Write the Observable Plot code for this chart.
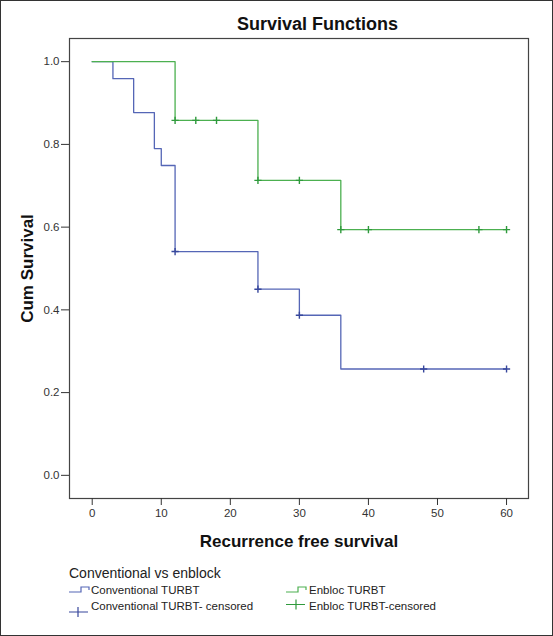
<!DOCTYPE html>
<html>
<head>
<meta charset="utf-8">
<script src="https://cdn.jsdelivr.net/npm/d3@7"></script>
<script src="https://cdn.jsdelivr.net/npm/@observablehq/plot@0.6"></script>
<style>
  html, body { margin: 0; padding: 0; background: #fff; }
  #wrap { position: relative; width: 553px; height: 636px; overflow: hidden; font-family: "Liberation Sans", Arial, sans-serif; }
  #border { position: absolute; left: 0; top: 0; width: 553px; height: 636px; box-sizing: border-box; border: 1px solid #333; pointer-events: none; }
  #chart { position: absolute; left: 0; top: 0; }
  #legend { position: absolute; left: 0; top: 560px; }
</style>
</head>
<body>
<div id="wrap">
  <div id="chart"></div>
  <div id="legend"></div>
  <div id="border"></div>
</div>
<script>
// ---- Data ----
const convTime = [0, 3, 6, 9, 10, 12, 24, 30, 36, 60];
const convSurv = [1.0, 0.959, 0.877, 0.790, 0.749, 0.541, 0.450, 0.387, 0.257, 0.257];
const convCensTime = [12, 24, 30, 48, 60];
const convCensSurv = [0.541, 0.450, 0.387, 0.257, 0.257];

const enTime = [0, 12, 24, 36, 60];
const enSurv = [1.0, 0.858, 0.713, 0.594, 0.594];
const enCensTime = [12, 15, 18, 24, 30, 36, 40, 56, 60];
const enCensSurv = [0.858, 0.858, 0.858, 0.713, 0.713, 0.594, 0.594, 0.594, 0.594];

const xTicks = [0, 10, 20, 30, 40, 50, 60];
const yTicks = [0.0, 0.2, 0.4, 0.6, 0.8, 1.0];

const titleText = "Survival Functions";
const xLabel = "Recurrence free survival";
const yLabel = "Cum Survival";
const legendTitle = "Conventional vs enblock";
const legendLabels = ["Conventional TURBT", "Conventional TURBT- censored", "Enbloc TURBT", "Enbloc TURBT-censored"];

// ---- Styles ----
const blueLine = "#5566b6";
const blueMark = "#37479c";
const greenLine = "#4cb050";
const greenMark = "#2f9a3c";

const conv = convTime.map((t, i) => ({t, s: convSurv[i]}));
const convC = convCensTime.map((t, i) => ({t, s: convCensSurv[i]}));
const en = enTime.map((t, i) => ({t, s: enSurv[i]}));
const enC = enCensTime.map((t, i) => ({t, s: enCensSurv[i]}));

const plusSym = {
  draw(ctx, size) {
    const r = Math.sqrt(size / Math.PI);
    ctx.moveTo(-r, 0); ctx.lineTo(r, 0);
    ctx.moveTo(0, -r); ctx.lineTo(0, r);
  }
};

const chart = Plot.plot({
  width: 553,
  height: 560,
  marginLeft: 69,
  marginRight: 25,
  marginTop: 38,
  marginBottom: 62,
  x: {domain: [-3.29, 63.18]},
  y: {domain: [-0.056, 1.056]},
  style: {fontFamily: "Liberation Sans, Arial, sans-serif", fontSize: "11.5px", color: "#333", background: "transparent"},
  marks: [
    Plot.frame({stroke: "#444", strokeWidth: 1.2}),
    Plot.axisX({ticks: xTicks, tickSize: 7, tickPadding: 3, label: null, tickFormat: d => String(d)}),
    Plot.axisY({ticks: yTicks, tickSize: 8, tickPadding: 2, label: null, tickFormat: d => d.toFixed(1)}),
    Plot.line(conv, {x: "t", y: "s", curve: "step-after", stroke: blueLine, strokeWidth: 1.3}),
    Plot.line(en, {x: "t", y: "s", curve: "step-after", stroke: greenLine, strokeWidth: 1.3}),
    Plot.dot(convC, {x: "t", y: "s", symbol: plusSym, r: 3.6, stroke: blueMark, fill: "none", strokeWidth: 1.4}),
    Plot.dot(enC, {x: "t", y: "s", symbol: plusSym, r: 3.6, stroke: greenMark, fill: "none", strokeWidth: 1.4}),
    Plot.text([titleText], {text: d => d, frameAnchor: "top", lineAnchor: "middle", textAnchor: "middle", dx: 18.5, dy: -14, fontWeight: "bold", fontSize: 18, fill: "#111"}),
    Plot.text([xLabel], {text: d => d, frameAnchor: "bottom", lineAnchor: "middle", textAnchor: "middle", dy: 43.3, fontWeight: "bold", fontSize: 17, fill: "#111"}),
    Plot.text([yLabel], {text: d => d, frameAnchor: "left", lineAnchor: "middle", textAnchor: "middle", rotate: -90, dx: -42.4, fontWeight: "bold", fontSize: 17, fill: "#111"})
  ]
});
document.getElementById("chart").appendChild(chart);

// ---- Legend ----
const ns = "http://www.w3.org/2000/svg";
const lg = d3.select("#legend").append("svg").attr("xmlns", ns).attr("width", 553).attr("height", 76)
  .style("font-family", "Liberation Sans, Arial, sans-serif");
lg.append("text").attr("x", 69).attr("y", 18).attr("font-size", 14).attr("fill", "#222").text(legendTitle);
const cols = [
  {x0: 69, tx: 91, line: blueLine, mark: blueMark, plusY: 52, plusX: 78},
  {x0: 286, tx: 309, line: greenLine, mark: greenMark, plusY: 44.5, plusX: 296}
];
cols.forEach((c, i) => {
  lg.append("path").attr("d", `M${c.x0},32 H${c.x0 + 12} V27 H${c.x0 + 20} V30`)
    .attr("fill", "none").attr("stroke", c.line).attr("stroke-width", 1.2);
  lg.append("path").attr("d", `M${c.x0},${c.plusY} H${c.x0 + 19} M${c.plusX},${c.plusY - 5} V${c.plusY + 5}`)
    .attr("fill", "none").attr("stroke", c.mark).attr("stroke-width", 1.2);
  lg.append("text").attr("x", c.tx).attr("y", 34).attr("font-size", 11.5).attr("fill", "#222").text(legendLabels[i * 2]);
  lg.append("text").attr("x", c.tx).attr("y", 50).attr("font-size", 11.5).attr("fill", "#222").text(legendLabels[i * 2 + 1]);
});
</script>
</body>
</html>
